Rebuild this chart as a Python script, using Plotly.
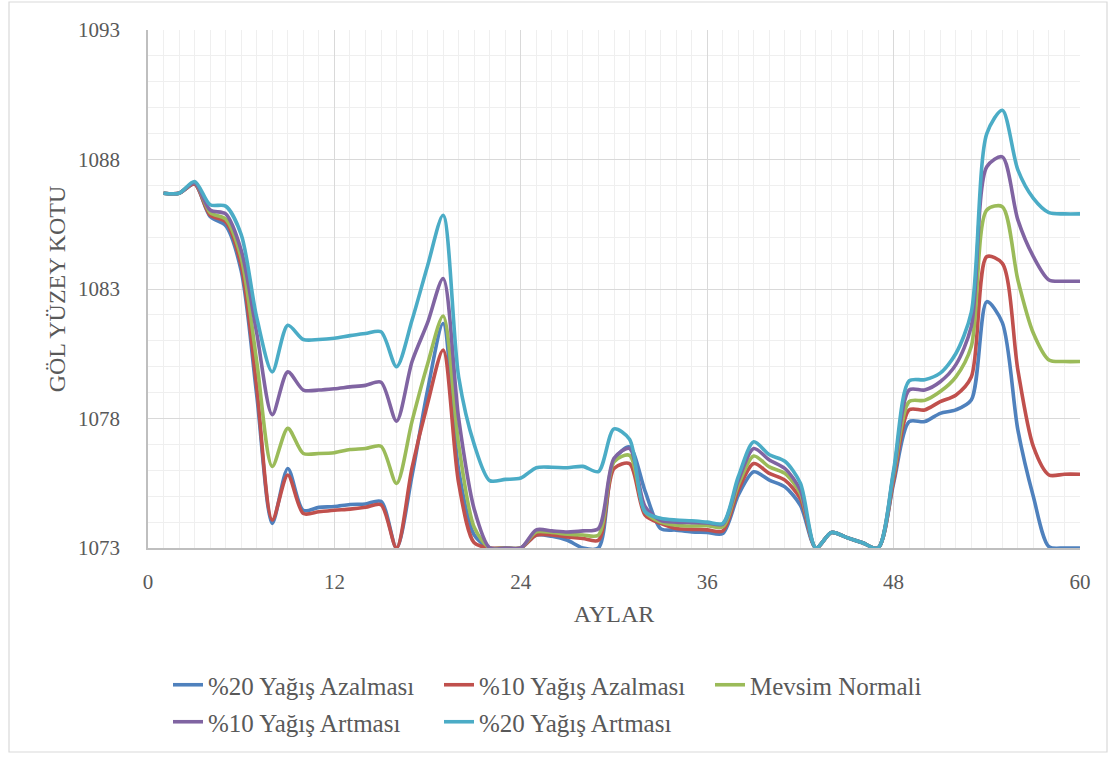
import plotly.graph_objects as go

months = list(range(1, 61))

azalma_20 = [1086.7, 1086.7, 1087.05, 1085.8, 1085.45, 1083.7, 1078.9, 1073.95, 1076.07, 1074.45,
             1074.57, 1074.6, 1074.68, 1074.7, 1074.8, 1073.0, 1075.8, 1079.1, 1081.67, 1076.0,
             1073.5, 1073.0, 1073.0, 1073.0, 1073.5, 1073.45, 1073.3, 1073.0, 1073.0, 1076.4,
             1076.9, 1075.2, 1073.75, 1073.69, 1073.62, 1073.6, 1073.56, 1075.04, 1075.94, 1075.62,
             1075.36, 1074.65, 1073.0, 1073.6, 1073.4, 1073.2, 1073.0, 1075.5, 1077.88, 1077.88,
             1078.2, 1078.33, 1078.71, 1082.51, 1081.7, 1077.56, 1074.98, 1073.05, 1073.0, 1073.0]

azalma_10 = [1086.7, 1086.7, 1087.05, 1085.85, 1085.6, 1083.9, 1079.2, 1074.08, 1075.82, 1074.33,
             1074.4, 1074.46, 1074.5, 1074.57, 1074.67, 1073.0, 1076.1, 1078.58, 1080.64, 1075.5,
             1073.2, 1073.0, 1073.0, 1073.0, 1073.5, 1073.5, 1073.43, 1073.37, 1073.3, 1076.07,
             1076.26, 1074.27, 1073.95, 1073.75, 1073.72, 1073.7, 1073.66, 1075.23, 1076.26, 1075.88,
             1075.62, 1074.9, 1073.0, 1073.6, 1073.4, 1073.2, 1073.0, 1075.6, 1078.33, 1078.33,
             1078.65, 1078.9, 1079.6, 1084.25, 1083.99, 1079.87, 1076.91, 1075.82, 1075.85, 1075.85]

normal = [1086.7, 1086.7, 1087.1, 1085.95, 1085.7, 1084.2, 1080.2, 1076.15, 1077.62, 1076.65,
          1076.65, 1076.68, 1076.8, 1076.84, 1076.93, 1075.49, 1077.9, 1080.1, 1081.96, 1077.0,
          1073.8, 1073.0, 1073.0, 1073.0, 1073.62, 1073.6, 1073.53, 1073.5, 1073.5, 1076.33,
          1076.58, 1074.4, 1074.0, 1073.88, 1073.85, 1073.86, 1073.82, 1075.43, 1076.55, 1076.13,
          1075.88, 1075.1, 1073.0, 1073.6, 1073.4, 1073.2, 1073.0, 1075.8, 1078.65, 1078.7,
          1079.04, 1079.6, 1080.78, 1086.05, 1086.18, 1083.35, 1081.29, 1080.26, 1080.2, 1080.2]

artma_10 = [1086.7, 1086.7, 1087.1, 1086.05, 1085.9, 1084.5, 1081.3, 1078.15, 1079.8, 1079.1,
            1079.1, 1079.15, 1079.22, 1079.28, 1079.4, 1077.9, 1080.2, 1081.7, 1083.4, 1078.0,
            1074.5, 1073.0, 1073.0, 1073.0, 1073.7, 1073.66, 1073.62, 1073.66, 1073.75, 1076.46,
            1076.84, 1074.6, 1074.07, 1074.0, 1073.98, 1073.97, 1073.92, 1075.6, 1076.84, 1076.4,
            1076.07, 1075.23, 1073.0, 1073.6, 1073.4, 1073.2, 1073.0, 1075.9, 1079.1, 1079.1,
            1079.42, 1080.07, 1081.55, 1087.72, 1088.1, 1085.67, 1084.25, 1083.35, 1083.3, 1083.3]

artma_20 = [1086.7, 1086.7, 1087.15, 1086.25, 1086.2, 1085.1, 1081.9, 1079.8, 1081.6, 1081.05,
            1081.05, 1081.1, 1081.2, 1081.28, 1081.35, 1080.0, 1081.8, 1083.9, 1085.85, 1079.6,
            1077.0, 1075.6, 1075.65, 1075.7, 1076.1, 1076.12, 1076.1, 1076.15, 1075.95, 1077.6,
            1077.2, 1074.4, 1074.15, 1074.08, 1074.05, 1074.0, 1073.95, 1075.75, 1077.1, 1076.6,
            1076.35, 1075.5, 1073.0, 1073.6, 1073.4, 1073.2, 1073.0, 1076.0, 1079.45, 1079.5,
            1079.75, 1080.5, 1082.1, 1089.0, 1089.9, 1087.6, 1086.5, 1085.95, 1085.9, 1085.9]

series_names = ["%20 Yağış Azalması", "%10 Yağış Azalması", "Mevsim Normali",
                "%10 Yağış Artması", "%20 Yağış Artması"]
series_values = [azalma_20, azalma_10, normal, artma_10, artma_20]
series_colors = ["#4F81BD", "#C0504D", "#9BBB59", "#8064A2", "#4BACC6"]
legend_rows = ["legend", "legend", "legend", "legend2", "legend2"]

x_ticks = [0, 12, 24, 36, 48, 60]
y_ticks = [1073, 1078, 1083, 1088, 1093]

FONT = "Liberation Serif"
TEXT = "#595959"

fig = go.Figure()
for name, vals, col, lg in zip(series_names, series_values, series_colors, legend_rows):
    fig.add_trace(go.Scatter(
        x=months, y=vals, name=name, mode="lines",
        line=dict(color=col, width=3.6, shape="spline", smoothing=0.8),
        legend=lg,
    ))

W, H = 1120, 760
ml, mr, mt, mb = 148, 40, 30, 212
pw, ph = W - ml - mr, H - mt - mb


def px_x(p):
    return (p - ml) / pw


def px_y(p):
    return (H - mb - p) / ph


legend_common = dict(
    orientation="h", xanchor="left", yanchor="middle",
    font=dict(family=FONT, size=25, color=TEXT),
    bgcolor="rgba(0,0,0,0)", entrywidth=226, entrywidthmode="pixels",
    itemclick=False, itemdoubleclick=False,
)

fig.update_layout(
    width=W, height=H,
    margin=dict(l=ml, r=mr, t=mt, b=mb, autoexpand=False),
    paper_bgcolor="white", plot_bgcolor="white",
    font=dict(family=FONT, color=TEXT),
    showlegend=True,
    legend=dict(x=px_x(168), y=px_y(685), **legend_common),
    legend2=dict(x=px_x(168), y=px_y(722), **legend_common),
    xaxis=dict(
        range=[0, 60], tickvals=x_ticks, ticktext=[str(v) for v in x_ticks],
        showgrid=True, gridcolor="#D9D9D9", gridwidth=1,
        minor=dict(dtick=1, showgrid=True, gridcolor="#EFEFEF", gridwidth=1),
        showline=True, linecolor="#BFBFBF", linewidth=1.5,
        ticks="", ticklabelstandoff=14,
        tickfont=dict(family=FONT, size=21, color=TEXT),
        title=dict(text="AYLAR", font=dict(family=FONT, size=24, color=TEXT), standoff=12),
        zeroline=False, fixedrange=True,
    ),
    yaxis=dict(
        range=[1073, 1093], tickvals=y_ticks, ticktext=[str(v) for v in y_ticks],
        showgrid=True, gridcolor="#D9D9D9", gridwidth=1,
        minor=dict(dtick=1, showgrid=True, gridcolor="#EFEFEF", gridwidth=1),
        showline=True, linecolor="#BFBFBF", linewidth=1.5,
        ticks="", ticklabelstandoff=22,
        tickfont=dict(family=FONT, size=21, color=TEXT),
        title=dict(text="GÖL YÜZEY KOTU", font=dict(family=FONT, size=24, color=TEXT), standoff=6),
        zeroline=False, fixedrange=True,
    ),
)

# Outer chart-area frame
fig.add_shape(
    type="rect", xref="paper", yref="paper",
    x0=px_x(9), x1=px_x(1107), y0=px_y(752), y1=px_y(2),
    line=dict(color="#D9D9D9", width=1.2), fillcolor="rgba(0,0,0,0)", layer="below",
)

fig.write_html("out.html")
